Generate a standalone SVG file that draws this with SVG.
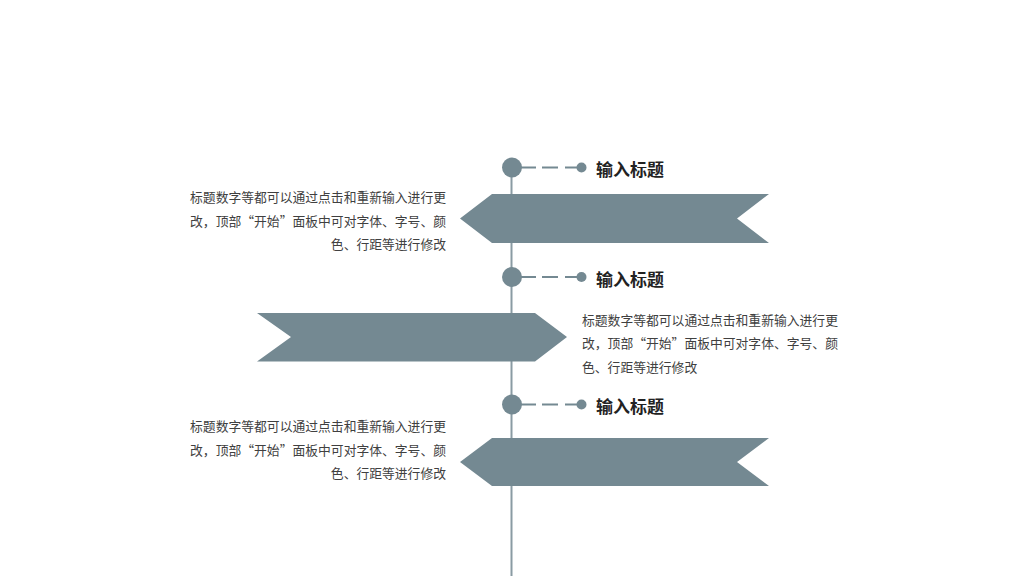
<svg xmlns="http://www.w3.org/2000/svg" width="1024" height="576" viewBox="0 0 1024 576">
<style>
.f{fill:#748992}
.l{stroke:#8a9ba3;stroke-width:2;fill:none}
.d{stroke:#748992;stroke-width:2;fill:none;stroke-dasharray:15 6 16 7 13}
.t{font-family:"Noto Sans CJK SC","Liberation Sans",sans-serif;font-size:17px;font-weight:700;fill:#222}
.b{font-family:"Noto Sans CJK SC","Liberation Sans",sans-serif;font-size:12.800px;fill:#404040}
.e{text-anchor:end}
</style>
<rect width="1024" height="576" fill="#fff"/>
<g id="connectors">
<line class="l" x1="511.500" y1="167" x2="511.500" y2="576"/>
<line class="d" x1="521" y1="167.500" x2="578" y2="167.500"/>
<line class="d" x1="521" y1="277" x2="578" y2="277"/>
<line class="d" x1="521" y1="404.500" x2="578" y2="404.500"/>
</g>
<g id="node1">
<circle class="f" cx="512" cy="167.500" r="10"/><circle class="f" cx="581.500" cy="167.500" r="5"/>
<text class="t" x="596" y="175.500">输入标题</text>
<polygon class="f" points="460,218.500 492,194 769,194 737,218.500 769,243 492,243"/>
<text class="b e" x="446" y="202">标题数字等都可以通过点击和重新输入进行更</text>
<text class="b e" x="446" y="226">改，顶部“开始”面板中可对字体、字号、颜</text>
<text class="b e" x="446" y="249">色、行距等进行修改</text>
</g>
<g id="node2">
<circle class="f" cx="512" cy="277" r="10"/><circle class="f" cx="581.500" cy="277" r="5"/>
<text class="t" x="596" y="285.500">输入标题</text>
<polygon class="f" points="257,313 535,313 567,337 535,361.500 257,361.500 291,337"/>
<text class="b" x="582" y="325">标题数字等都可以通过点击和重新输入进行更</text>
<text class="b" x="582" y="348">改，顶部“开始”面板中可对字体、字号、颜</text>
<text class="b" x="582" y="372">色、行距等进行修改</text>
</g>
<g id="node3">
<circle class="f" cx="512" cy="404.500" r="10"/><circle class="f" cx="581.500" cy="404.500" r="5"/>
<text class="t" x="596" y="412.500">输入标题</text>
<polygon class="f" points="460,462 492,438 769,438 737,462 769,486 492,486"/>
<text class="b e" x="446" y="431">标题数字等都可以通过点击和重新输入进行更</text>
<text class="b e" x="446" y="455">改，顶部“开始”面板中可对字体、字号、颜</text>
<text class="b e" x="446" y="478">色、行距等进行修改</text>
</g>
</svg>
